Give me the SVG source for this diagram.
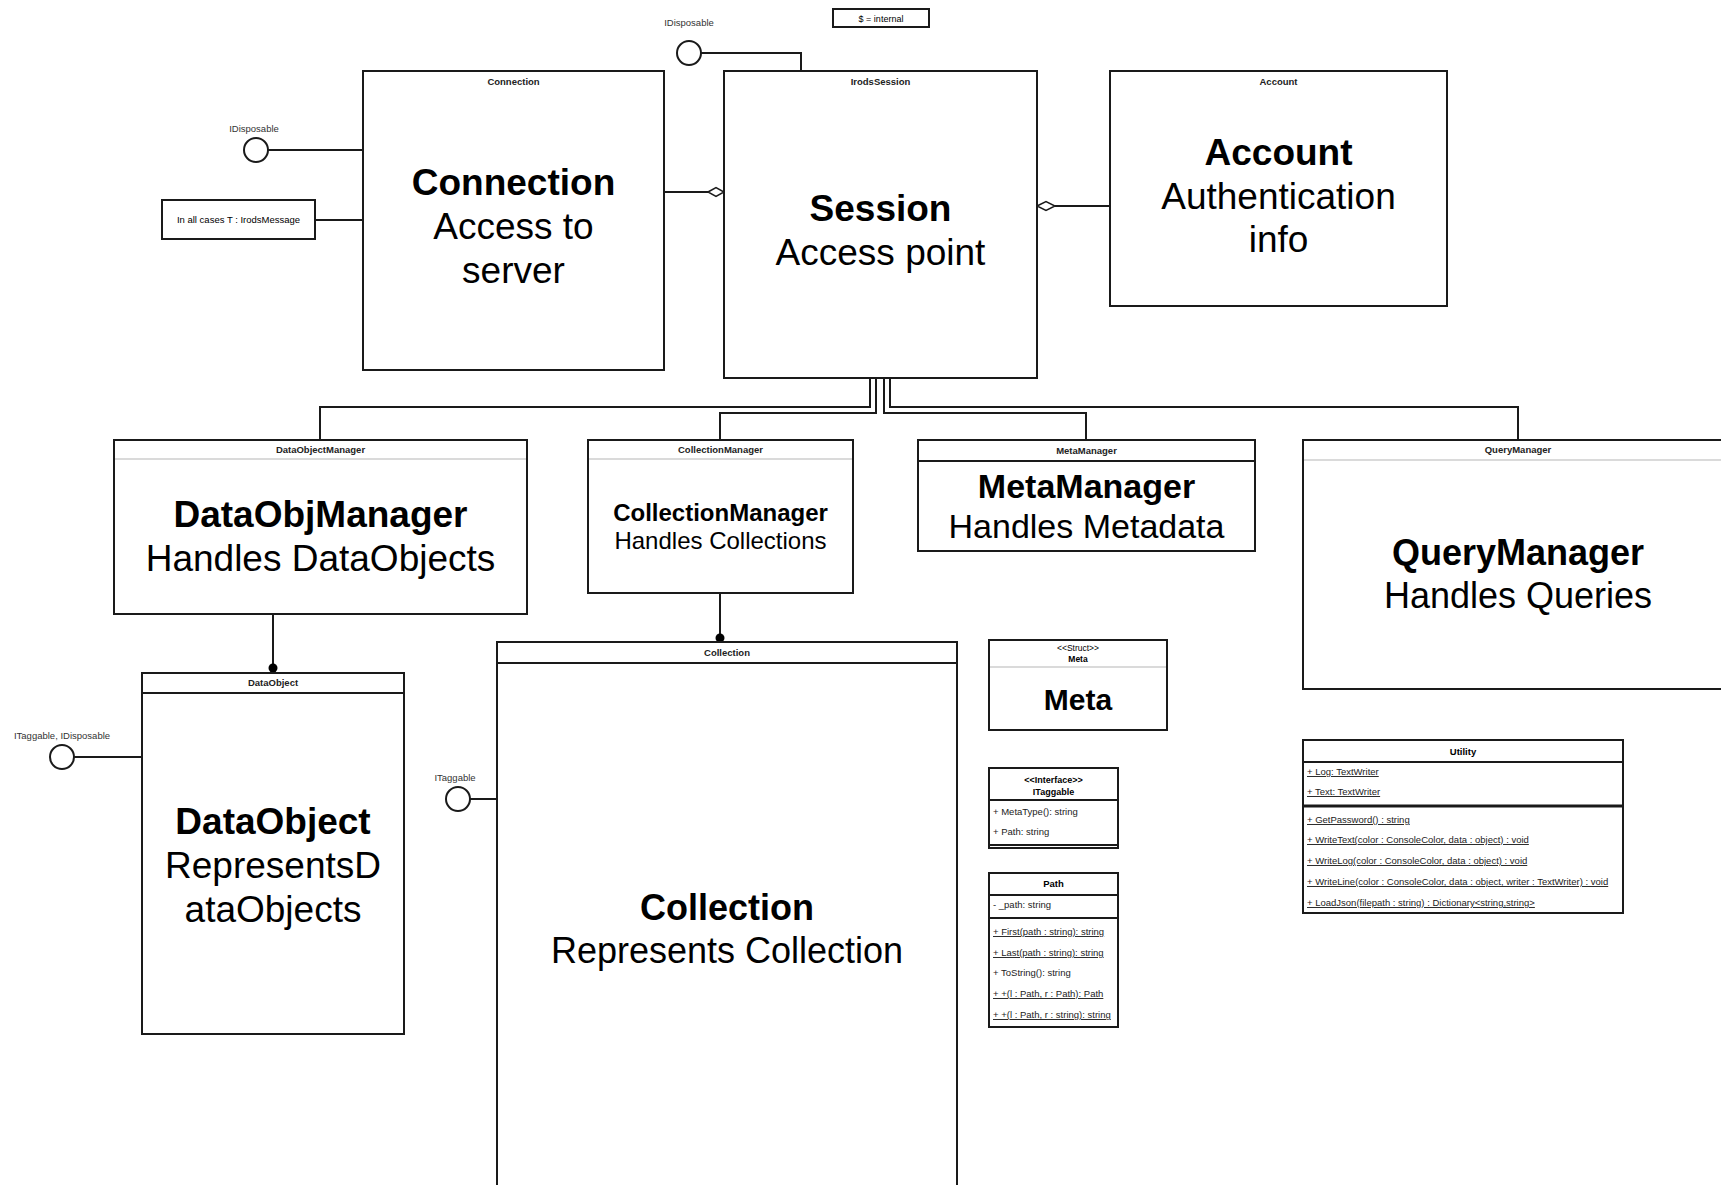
<svg xmlns="http://www.w3.org/2000/svg" width="1721" height="1185" viewBox="0 0 1721 1185">
<style>
text { font-family: "Liberation Sans", Arial, sans-serif; fill:#000; }
.box { fill:#fff; stroke:#1a1a1a; stroke-width:2; }
.sep { stroke:#1a1a1a; stroke-width:2; }
.sepl { stroke:#b5b5b5; stroke-width:1; }
.hdr { font-size:9.5px; font-weight:bold; text-anchor:middle; fill:#222; }
.big { font-size:37px; text-anchor:middle; }
.b { font-weight:bold; }
.lbl { font-size:9.5px; fill:#333; text-anchor:middle; }
.mem { font-size:9.5px; fill:#222; }
.u { text-decoration: underline; }
.conn { fill:none; stroke:#1a1a1a; stroke-width:2; }
.lol { fill:#fff; stroke:#1a1a1a; stroke-width:2; }
.dia { fill:#fff; stroke:#1a1a1a; stroke-width:1.5; }
.dot { fill:#000; }
</style>
<rect x="0" y="0" width="1721" height="1185" fill="#fff"/>

<g id="connectors">
  <path class="conn" d="M701,53 H801 V71"/>
  <path class="conn" d="M268,150 H363"/>
  <path class="conn" d="M315,220 H363"/>
  <path class="conn" d="M74,757 H142"/>
  <path class="conn" d="M470,799 H497"/>
  <path class="conn" d="M664,192 H708"/>
  <polygon class="dia" points="708,192 716,187.5 724,192 716,196.5"/>
  <path class="conn" d="M1110,206 H1055"/>
  <polygon class="dia" points="1037,206 1046,201.5 1055,206 1046,210.5"/>
  <path class="conn" d="M870,378 V407 H320 V440"/>
  <path class="conn" d="M876,378 V413 H720 V440"/>
  <path class="conn" d="M884,378 V413 H1086 V440"/>
  <path class="conn" d="M890,378 V407 H1518 V440"/>
  <path class="conn" d="M273,614 V668"/>
  <circle class="dot" cx="273" cy="668" r="4.5"/>
  <path class="conn" d="M720,593 V638"/>
  <circle class="dot" cx="720" cy="638" r="4.5"/>
</g>

<g id="internal-note">
  <rect class="box" x="833" y="9" width="96" height="18"/>
  <text x="881" y="21.5" style="font-size:9px" text-anchor="middle">$ = internal</text>
</g>

<g id="lollipop-session">
  <text class="lbl" x="689" y="26">IDisposable</text>
  <circle class="lol" cx="689" cy="53" r="12"/>
</g>

<g id="lollipop-connection">
  <text class="lbl" x="254" y="132">IDisposable</text>
  <circle class="lol" cx="256" cy="150" r="12"/>
</g>

<g id="note-T">
  <rect class="box" x="162" y="200" width="153" height="39"/>
  <text x="238.5" y="223" style="font-size:9.5px" text-anchor="middle" fill="#222">In all cases T : IrodsMessage</text>
</g>

<g id="lollipop-dataobject">
  <text class="lbl" x="62" y="739">ITaggable, IDisposable</text>
  <circle class="lol" cx="62" cy="757" r="12"/>
</g>

<g id="lollipop-collection">
  <text class="lbl" x="455" y="781">ITaggable</text>
  <circle class="lol" cx="458" cy="799" r="12"/>
</g>

<g id="connection">
  <rect class="box" x="363" y="71" width="301" height="299"/>
  <text class="hdr" x="513.5" y="85">Connection</text>
  <text class="big" x="513.5" y="195"><tspan class="b">Connection</tspan><tspan x="513.5" y="239">Access to</tspan><tspan x="513.5" y="283">server</tspan></text>
</g>

<g id="irodssession">
  <rect class="box" x="724" y="71" width="313" height="307"/>
  <text class="hdr" x="880.5" y="85">IrodsSession</text>
  <text class="big" x="880.5" y="221"><tspan class="b">Session</tspan><tspan x="880.5" y="265">Access point</tspan></text>
</g>

<g id="account">
  <rect class="box" x="1110" y="71" width="337" height="235"/>
  <text class="hdr" x="1278.5" y="85">Account</text>
  <text class="big" x="1278.5" y="165"><tspan class="b">Account</tspan><tspan x="1278.5" y="209">Authentication</tspan><tspan x="1278.5" y="252">info</tspan></text>
</g>

<g id="dataobjectmanager">
  <rect class="box" x="114" y="440" width="413" height="174"/>
  <line class="sepl" x1="115" y1="459" x2="526" y2="459"/>
  <text class="hdr" x="320.5" y="453">DataObjectManager</text>
  <text class="big" x="320.5" y="527"><tspan class="b">DataObjManager</tspan><tspan x="320.5" y="571">Handles DataObjects</tspan></text>
</g>

<g id="collectionmanager">
  <rect class="box" x="588" y="440" width="265" height="153"/>
  <line class="sepl" x1="589" y1="459" x2="852" y2="459"/>
  <text class="hdr" x="720.5" y="453">CollectionManager</text>
  <text class="big" x="720.5" y="521" style="font-size:24px"><tspan class="b">CollectionManager</tspan><tspan x="720.5" y="549">Handles Collections</tspan></text>
</g>

<g id="metamanager">
  <rect class="box" x="918" y="440" width="337" height="111"/>
  <line class="sep" x1="918" y1="461" x2="1255" y2="461"/>
  <text class="hdr" x="1086.5" y="454">MetaManager</text>
  <text class="big" x="1086.5" y="498" style="font-size:34px"><tspan class="b">MetaManager</tspan><tspan x="1086.5" y="538">Handles Metadata</tspan></text>
</g>

<g id="querymanager">
  <rect class="box" x="1303" y="440" width="430" height="249"/>
  <line class="sepl" x1="1304" y1="460" x2="1733" y2="460"/>
  <text class="hdr" x="1518" y="453">QueryManager</text>
  <text class="big" x="1518" y="565" style="font-size:36px"><tspan class="b">QueryManager</tspan><tspan x="1518" y="608">Handles Queries</tspan></text>
</g>

<g id="dataobject">
  <rect class="box" x="142" y="673" width="262" height="361"/>
  <line class="sep" x1="142" y1="693" x2="404" y2="693"/>
  <text class="hdr" x="273" y="686">DataObject</text>
  <text class="big" x="273" y="834"><tspan class="b">DataObject</tspan><tspan x="273" y="878">RepresentsD</tspan><tspan x="273" y="922">ataObjects</tspan></text>
</g>

<g id="collection">
  <rect class="box" x="497" y="642" width="460" height="570"/>
  <line class="sep" x1="497" y1="663" x2="957" y2="663"/>
  <text class="hdr" x="727" y="656">Collection</text>
  <text class="big" x="727" y="920" style="font-size:36px"><tspan class="b">Collection</tspan><tspan x="727" y="963">Represents Collection</tspan></text>
</g>

<g id="meta">
  <rect class="box" x="989" y="640" width="178" height="90"/>
  <line class="sepl" x1="990" y1="667" x2="1166" y2="667"/>
  <text x="1078" y="651" style="font-size:8.5px" text-anchor="middle">&lt;&lt;Struct&gt;&gt;</text>
  <text x="1078" y="662" style="font-size:8.5px;font-weight:bold" text-anchor="middle">Meta</text>
  <text x="1078" y="710" style="font-size:30px;font-weight:bold" text-anchor="middle">Meta</text>
</g>

<g id="itaggable">
  <rect class="box" x="989" y="768" width="129" height="80"/>
  <line class="sep" x1="989" y1="800" x2="1118" y2="800"/>
  <line class="sep" x1="989" y1="845" x2="1118" y2="845"/>
  <text x="1053.5" y="783" style="font-size:9px;font-weight:bold" text-anchor="middle">&lt;&lt;Interface&gt;&gt;</text>
  <text x="1053.5" y="795" style="font-size:9px;font-weight:bold" text-anchor="middle">ITaggable</text>
  <text class="mem" x="993" y="815">+ MetaType(): string</text>
  <text class="mem" x="993" y="835">+ Path: string</text>
</g>

<g id="path">
  <rect class="box" x="989" y="873" width="129" height="154"/>
  <line class="sep" x1="989" y1="895" x2="1118" y2="895"/>
  <line class="sep" x1="989" y1="918" x2="1118" y2="918"/>
  <text x="1053.5" y="887" style="font-size:9.5px;font-weight:bold" text-anchor="middle">Path</text>
  <text class="mem" x="993" y="908">- _path: string</text>
  <text class="mem u" x="993" y="935">+ First(path : string): string</text>
  <text class="mem u" x="993" y="956">+ Last(path : string): string</text>
  <text class="mem" x="993" y="976">+ ToString(): string</text>
  <text class="mem u" x="993" y="997">+ +(l : Path, r : Path): Path</text>
  <text class="mem u" x="993" y="1018">+ +(l : Path, r : string): string</text>
</g>

<g id="utility">
  <rect class="box" x="1303" y="740" width="320" height="173"/>
  <line class="sep" x1="1303" y1="762" x2="1623" y2="762"/>
  <line class="sep" x1="1303" y1="806" x2="1623" y2="806" style="stroke-width:3"/>
  <text x="1463" y="755" style="font-size:9.5px;font-weight:bold" text-anchor="middle">Utility</text>
  <text class="mem u" x="1307" y="775">+ Log: TextWriter</text>
  <text class="mem u" x="1307" y="795">+ Text: TextWriter</text>
  <text class="mem u" x="1307" y="823">+ GetPassword() : string</text>
  <text class="mem u" x="1307" y="843">+ WriteText(color : ConsoleColor, data : object) : void</text>
  <text class="mem u" x="1307" y="864">+ WriteLog(color : ConsoleColor, data : object) : void</text>
  <text class="mem u" x="1307" y="885">+ WriteLine(color : ConsoleColor, data : object, writer : TextWriter) : void</text>
  <text class="mem u" x="1307" y="906">+ LoadJson(filepath : string) : Dictionary&lt;string,string&gt;</text>
</g>
</svg>
